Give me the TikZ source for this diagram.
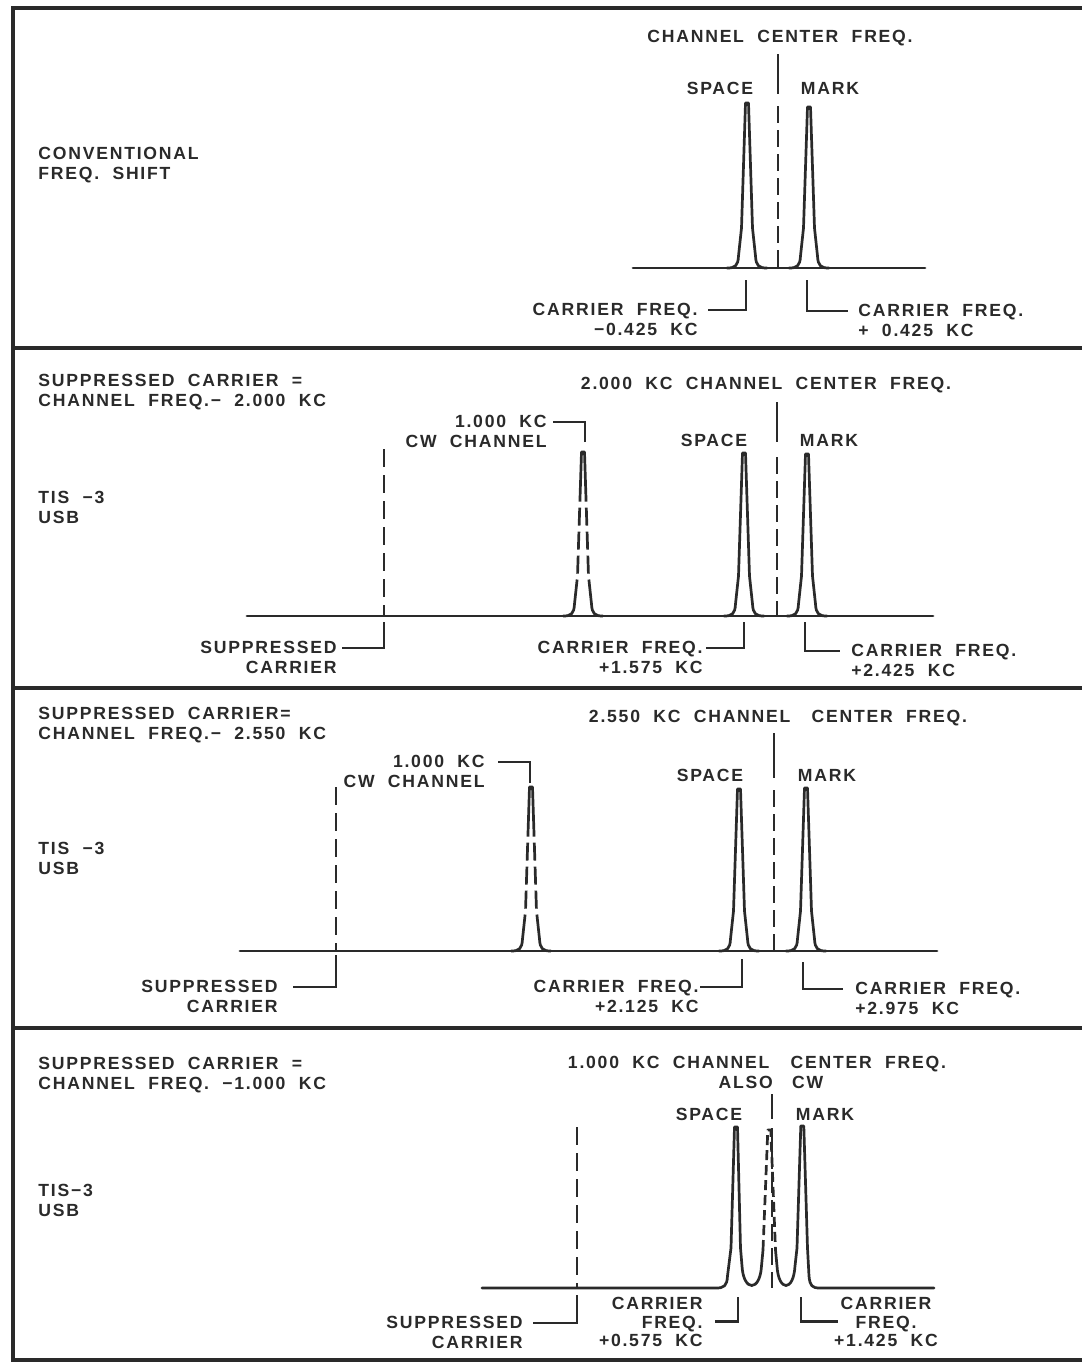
\documentclass[tikz,border=0pt]{standalone}
\usepackage{fontspec}
\usetikzlibrary{positioning}
\newfontfamily\leroyfont{Liberation Sans}[LetterSpace=10,WordSpace=2]
\definecolor{Ink}{HTML}{2A2A2A}
% one keyed peak: x, top, base (pixel units, y downwards)
\newcommand{\specpeak}[4][]{%
  \draw[trace,#1] ({#2-20},#4) .. controls ({#2-12},#4) and ({#2-9},{#4-2}) .. ({#2-8.5},{#4-12})
    -- ({#2-5.5},{#4-40}) -- ({#2-1.5},#3) -- ({#2+1.5},#3) -- ({#2+5.5},{#4-40}) -- ({#2+8.5},{#4-12})
    .. controls ({#2+9},{#4-2}) and ({#2+12},#4) .. ({#2+20},#4);}
% the broken cw tone, each half drawn from its foot
\newcommand{\cwspike}[3]{%
  \draw[trace,cwdash] ({#1-20},#3) .. controls ({#1-12},#3) and ({#1-9},{#3-2}) .. ({#1-8.5},{#3-12})
    -- ({#1-5.5},{#3-40}) -- ({#1-1.5},#2) -- (#1,#2);
  \draw[trace,cwdash] ({#1+20},#3) .. controls ({#1+12},#3) and ({#1+9},{#3-2}) .. ({#1+8.5},{#3-12})
    -- ({#1+5.5},{#3-40}) -- ({#1+1.5},#2) -- (#1,#2);}
\tikzset{
  frame/.style={draw=Ink,line width=1.8pt},
  trace/.style={draw=Ink,line width=1.35pt,line join=round,line cap=round},
  cwdash/.style={line cap=butt,dash pattern=on 22pt off 3pt on 9pt off 3pt on 9pt off 3pt on 9pt off 3pt on 40pt},
  midline/.style={draw=Ink,line width=1.3pt,dash pattern=on 8.5pt off 3.5pt},
  supline/.style={draw=Ink,line width=1.3pt,dash pattern=on 9pt off 4pt},
  lead/.style={draw=Ink,line width=1.2pt},
  lbl/.style={font=\leroyfont\bfseries\fontsize{8.8pt}{10pt}\selectfont,text=Ink,inner sep=0pt},
  tag/.style={lbl,text height=6.3pt,text depth=0pt}
}
\begin{document}
\begin{tikzpicture}[x=0.5pt,y=-0.5pt]
  \useasboundingbox (0,0) rectangle (1082,1362);
  \fill[white] (0,0) rectangle (1082,1362);
  \draw[frame] (1082,8) -- (13,8) -- (13,1360) -- (1082,1360);
  \foreach \yy in {348,688,1028}
    \draw[frame] (13,\yy) -- (1082,\yy);

  % conventional shift
  \node[lbl,align=left,anchor=north west] (conv) at (38,147) {CONVENTIONAL\\FREQ. SHIFT};
  \node[tag] (ctr1) at (780,36) {CHANNEL CENTER FREQ.};
  \node[tag] (spc1) at (720,88) {SPACE};
  \node[tag] (mrk1) at (830,88) {MARK};
  \draw[lead] (778,54) -- (778,94);
  \draw[midline] (778,106) -- (778,268);
  \draw[trace] (633,268) -- (925,268);
  \specpeak{747}{103}{268}
  \specpeak{809}{107}{268}
  \node[lbl,align=right,anchor=north east] (cfl1) at (698,303) {CARRIER FREQ.\\−0.425 KC};
  \node[lbl,align=left,anchor=north west] (cfr1) at (858,304) {CARRIER FREQ.\\+ 0.425 KC};
  \coordinate (sf1) at (746,280);
  \coordinate (mf1) at (807,280);
  \draw[lead] (sf1) |- ([xshift=5pt,yshift=-3.5pt]cfl1.north east);
  \draw[lead] (mf1) |- ([xshift=-5pt,yshift=-3.5pt]cfr1.north west);

  % tis-3, 2.000 kc
  \node[lbl,align=left,anchor=north west] (sup2) at (38,374) {SUPPRESSED CARRIER =\\CHANNEL FREQ.− 2.000 KC};
  \node[lbl,align=left,anchor=north west] (tis2) at (38,491) {TIS −3\\USB};
  \node[tag] (ctr2) at (766,383) {2.000 KC CHANNEL CENTER FREQ.};
  \node[tag] (spc2) at (714,440) {SPACE};
  \node[tag] (mrk2) at (829,440) {MARK};
  \draw[lead] (777,402) -- (777,442);
  \draw[midline] (777,457) -- (777,616);
  \draw[supline] (384,449) -- (384,616);
  \draw[trace] (247,616) -- (933,616);
  \specpeak{744}{453}{616}
  \specpeak{807}{454}{616}
  \cwspike{583}{452}{616}
  \node[lbl,align=right,anchor=north east] (cw2) at (547,415) {1.000 KC\\CW CHANNEL};
  \node[lbl,align=right,anchor=north east] (supl2) at (337,641) {SUPPRESSED\\CARRIER};
  \node[lbl,align=right,anchor=north east] (cfl2) at (703,641) {CARRIER FREQ.\\+1.575 KC};
  \node[lbl,align=left,anchor=north west] (cfr2) at (851,644) {CARRIER FREQ.\\+2.425 KC};
  \coordinate (cwt2) at (585,442);
  \coordinate (sc2) at (384,622);
  \coordinate (sf2) at (744,622);
  \coordinate (mf2) at (805,622);
  \draw[lead] (cwt2) |- ([xshift=3pt,yshift=-3.5pt]cw2.north east);
  \draw[lead] (sc2) |- ([xshift=2.5pt,yshift=-3.5pt]supl2.north east);
  \draw[lead] (sf2) |- ([xshift=1.5pt,yshift=-3.5pt]cfl2.north east);
  \draw[lead] (mf2) |- ([xshift=-5.5pt,yshift=-3.5pt]cfr2.north west);

  % tis-3, 2.550 kc
  \node[lbl,align=left,anchor=north west] (sup3) at (38,707) {SUPPRESSED CARRIER=\\CHANNEL FREQ.− 2.550 KC};
  \node[lbl,align=left,anchor=north west] (tis3) at (38,842) {TIS −3\\USB};
  \node[tag] (ctr3) at (778,716) {2.550 KC CHANNEL\hspace{4pt} CENTER FREQ.};
  \node[tag] (spc3) at (710,775) {SPACE};
  \node[tag] (mrk3) at (827,775) {MARK};
  \draw[lead] (774,733) -- (774,778);
  \draw[midline] (774,790) -- (774,951);
  \draw[supline] (336,787) -- (336,951);
  \draw[trace] (240,951) -- (937,951);
  \specpeak{739}{789}{951}
  \specpeak{806}{788}{951}
  \cwspike{531}{787}{951}
  \node[lbl,align=right,anchor=north east] (cw3) at (485,755) {1.000 KC\\CW CHANNEL};
  \node[lbl,align=right,anchor=north east] (supl3) at (278,980) {SUPPRESSED\\CARRIER};
  \node[lbl,align=right,anchor=north east] (cfl3) at (699,980) {CARRIER FREQ.\\+2.125 KC};
  \node[lbl,align=left,anchor=north west] (cfr3) at (855,982) {CARRIER FREQ.\\+2.975 KC};
  \coordinate (cwt3) at (530,783);
  \coordinate (sc3) at (336,955);
  \coordinate (sf3) at (742,959);
  \coordinate (mf3) at (803,962);
  \draw[lead] (cwt3) |- ([xshift=6.5pt,yshift=-3.5pt]cw3.north east);
  \draw[lead] (sc3) |- ([xshift=7.5pt,yshift=-3.5pt]supl3.north east);
  \draw[lead] (sf3) |- ([xshift=0.5pt,yshift=-3.5pt]cfl3.north east);
  \draw[lead] (mf3) |- ([xshift=-6pt,yshift=-3.5pt]cfr3.north west);

  % tis-3, 1.000 kc, cw on centre
  \node[lbl,align=left,anchor=north west] (sup4) at (38,1057) {SUPPRESSED CARRIER =\\CHANNEL FREQ. −1.000 KC};
  \node[lbl,align=left,anchor=north west] (tis4) at (38,1184) {TIS−3\\USB};
  \node[tag] (ctr4) at (757,1062) {1.000 KC CHANNEL\hspace{4pt} CENTER FREQ.};
  \node[tag] (also4) at (771,1082) {ALSO\hspace{3pt} CW};
  \node[tag] (spc4) at (709,1114) {SPACE};
  \node[tag] (mrk4) at (825,1114) {MARK};
  \draw[lead] (772,1094) -- (772,1119);
  \draw[midline] (772,1128) -- (772,1288);
  \draw[supline] (577,1127) -- (577,1288);
  \draw[trace] (482,1288) -- (716,1288) .. controls (724,1288) and (727,1286) .. (727.5,1276)
    -- (731,1248) -- (734.5,1127) -- (737.5,1127) -- (740.5,1248) -- (742,1266)
    .. controls (743.5,1292) and (760,1292) .. (761.5,1266) -- (763,1250);
  \draw[trace,line cap=butt,dash pattern=on 5pt off 2.5pt] (763,1250) -- (767.8,1130) -- (770.8,1130) -- (775.5,1250);
  \draw[trace] (775.5,1250) -- (777,1266) .. controls (778.5,1292) and (793.5,1292) .. (795,1266)
    -- (797,1248) -- (800.8,1126) -- (803.8,1126) -- (807.5,1248) -- (809,1276)
    .. controls (810,1286) and (812,1288) .. (820,1288) -- (934,1288);
  \node[lbl,align=right,anchor=north east] (supl4) at (523,1316) {SUPPRESSED\\CARRIER};
  \node[lbl,font=\leroyfont\bfseries\fontsize{8.8pt}{9.2pt}\selectfont,align=right,anchor=north east] (cfl4) at (703,1297) {CARRIER\\FREQ.\\+0.575 KC};
  \node[lbl,font=\leroyfont\bfseries\fontsize{8.8pt}{9.2pt}\selectfont,align=center,anchor=north] (cfr4) at (886,1297) {CARRIER\\FREQ.\\+1.425 KC};
  \coordinate (sc4) at (577,1295);
  \coordinate (sf4) at (738,1297);
  \coordinate (mf4) at (801,1297);
  \draw[lead] (sc4) |- ([xshift=5pt,yshift=-3.5pt]supl4.north east);
  \draw[lead] (sf4) |- ([xshift=6pt,yshift=-12.2pt]cfl4.north east);
  \draw[lead] (mf4) |- ([xshift=-24pt,yshift=-12.2pt]cfr4.north);
\end{tikzpicture}
\end{document}
